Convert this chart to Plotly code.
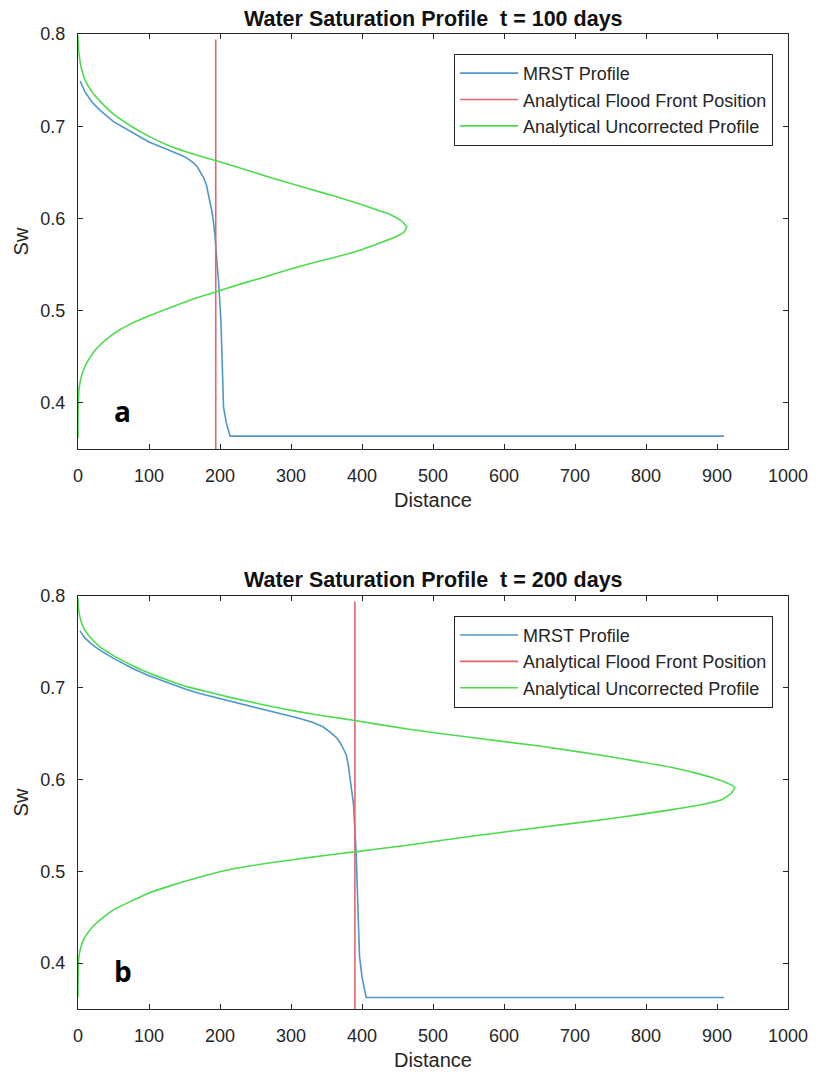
import plotly.graph_objects as go

# ---------------- data ----------------
# t = 100 days
mrst_x_100 = [3, 6, 10, 20, 30, 50, 75, 100, 125, 140, 150, 157, 163, 168, 172, 177, 181, 184, 186.5,
              188.7, 191, 193.3, 196, 198, 201.3, 203, 205, 209, 214.3, 910]
mrst_sw_100 = [0.749, 0.743, 0.737, 0.726, 0.718, 0.705, 0.694, 0.683, 0.675, 0.6705, 0.667, 0.6635,
               0.660, 0.656, 0.651, 0.644, 0.636, 0.626, 0.616, 0.607, 0.595, 0.578, 0.550, 0.5317,
               0.4886, 0.440, 0.3953, 0.378, 0.364, 0.364]
front_x_100 = [194, 194]
front_sw_100 = [0.35, 0.794]
unc_x_100 = [0, 0.3, 1, 2, 5, 10, 20, 30, 50, 75, 100, 125, 150, 175, 194.7, 225, 256, 290, 326,
             362, 396, 422, 442.6, 456, 463, 459, 447,
             425, 396, 362, 326, 290, 256, 225, 194.7, 165, 139.8, 115, 93, 75, 56, 40, 30, 22, 15,
             10, 6, 3, 1.5, 0.6, 0.2, 0.05, 0]
unc_sw_100 = [0.798, 0.790, 0.782, 0.775, 0.762, 0.750, 0.737, 0.728, 0.713, 0.700, 0.689, 0.680,
              0.673, 0.667, 0.6625, 0.6555, 0.648, 0.640, 0.632, 0.624, 0.616, 0.609, 0.6033, 0.597,
              0.591, 0.585, 0.580,
              0.5735, 0.5653, 0.558, 0.551, 0.543, 0.535, 0.528, 0.5206, 0.5135, 0.5063, 0.499, 0.492,
              0.486, 0.478, 0.469, 0.462, 0.455, 0.447, 0.440, 0.432, 0.423, 0.415, 0.405, 0.395,
              0.380, 0.362]

# t = 200 days
mrst_x_200 = [2.8, 10, 20, 30.8, 50, 77, 100, 124, 150, 170, 217, 264, 310, 330, 345, 356.8, 365,
              370.8, 377.8, 380.5, 382.5, 385, 388, 391.8, 394, 396.5, 400, 405.8, 910]
mrst_sw_200 = [0.762, 0.754, 0.747, 0.741, 0.732, 0.721, 0.713, 0.706, 0.699, 0.694, 0.685, 0.676,
               0.667, 0.6625, 0.6575, 0.6506, 0.645, 0.638, 0.627, 0.617, 0.6056, 0.590, 0.5732,
               0.519, 0.460, 0.4074, 0.385, 0.3626, 0.3626]
front_x_200 = [390, 390]
front_sw_200 = [0.35, 0.794]
unc_x_200 = [0, 0.3, 1, 3, 8, 15, 30, 50, 77, 100, 124, 150, 170, 217, 264, 310, 350, 390, 464, 557,
             650, 743.5, 790, 836.7, 870, 892.6, 912, 925, 920, 906.5,
             878.6, 836.7, 790, 743.5, 650, 557, 464, 390, 350, 310, 263.7, 217, 170.5, 124, 100,
             77.3, 50, 30.8, 20, 12, 7, 3.5, 1.5, 0.5, 0.1, 0]
unc_sw_200 = [0.798, 0.791, 0.785, 0.776, 0.765, 0.757, 0.745, 0.735, 0.724, 0.716, 0.709, 0.702,
              0.698, 0.689, 0.681, 0.674, 0.669, 0.6643, 0.655, 0.6455, 0.6365, 0.6257, 0.6195,
              0.6131, 0.607, 0.6023, 0.597, 0.5915, 0.585, 0.578,
              0.5728, 0.5672, 0.5618, 0.5568, 0.5478, 0.5385, 0.5285, 0.5212, 0.5175, 0.5135, 0.5085,
              0.5026, 0.4936, 0.4828, 0.4765, 0.4684, 0.458, 0.4468, 0.439, 0.431, 0.424, 0.416,
              0.408, 0.398, 0.382, 0.3626]

series_names = ["MRST Profile", "Analytical Flood Front Position", "Analytical Uncorrected Profile"]
titles = ["Water Saturation Profile\u00a0 t = 100 days", "Water Saturation Profile\u00a0 t = 200 days"]
panel_labels = ["a", "b"]
x_ticks = [0, 100, 200, 300, 400, 500, 600, 700, 800, 900, 1000]
y_ticks = [0.4, 0.5, 0.6, 0.7, 0.8]

# ---------------- styling ----------------
BLUE = "#4f97c9"
RED = "#e0666e"
GREEN = "#4ddb4d"
AX = "#262626"
FONT = "Liberation Sans, Arial, sans-serif"

fig = go.Figure()

panels = [
    (mrst_x_100, mrst_sw_100, front_x_100, front_sw_100, unc_x_100, unc_sw_100, "x", "y", "legend"),
    (mrst_x_200, mrst_sw_200, front_x_200, front_sw_200, unc_x_200, unc_sw_200, "x2", "y2", "legend2"),
]
colors = [BLUE, RED, GREEN]
for mx, ms, fx, fs, ux, us, xa, ya, lg in panels:
    for (xs, ys), name, col in zip([(mx, ms), (fx, fs), (ux, us)], series_names, colors):
        fig.add_trace(go.Scatter(x=xs, y=ys, mode="lines", name=name,
                                 line=dict(color=col, width=1.6, shape="spline", smoothing=0.4)
                                 if col == GREEN else dict(color=col, width=1.6),
                                 xaxis=xa, yaxis=ya, legend=lg, showlegend=True))

axis_common = dict(showline=True, linecolor=AX, linewidth=1, mirror="ticks", ticks="inside",
                   ticklen=5, tickcolor=AX, tickwidth=1, showgrid=False, zeroline=False,
                   tickfont=dict(size=18, color=AX, family=FONT))

xcfg = dict(axis_common, range=[0, 1000], tickvals=x_ticks, ticklabelstandoff=10,
            title=dict(text="Distance", font=dict(size=20, color=AX, family=FONT), standoff=8))
ycfg = dict(axis_common, range=[0.35, 0.8], tickvals=y_ticks, tickformat=".1f", ticklabelstandoff=8,
            title=dict(text="Sw", font=dict(size=20, color=AX, family=FONT), standoff=6))

legend_common = dict(xref="paper", yref="paper", xanchor="right", yanchor="top",
                     bordercolor=AX, borderwidth=1, bgcolor="white",
                     font=dict(size=18, color=AX, family=FONT), itemwidth=58,
                     traceorder="normal")

fig.update_layout(
    width=820, height=1080,
    margin=dict(l=78, r=27, t=34, b=64),
    paper_bgcolor="white", plot_bgcolor="white",
    font=dict(family=FONT, color=AX),
    xaxis=dict(xcfg, domain=[0, 1], anchor="y"),
    yaxis=dict(ycfg, domain=[0.5743, 1.0], anchor="x"),
    xaxis2=dict(xcfg, domain=[0, 1], anchor="y2"),
    yaxis2=dict(ycfg, domain=[0.0, 0.4236], anchor="x2"),
    legend=dict(legend_common, x=0.979, y=0.9796),
    legend2=dict(legend_common, x=0.979, y=0.4033),
)

title_y = [1.0153, 0.4399]
for t, ty in zip(titles, title_y):
    fig.add_annotation(text="<b>" + t + "</b>", x=0.5, y=ty, xref="paper", yref="paper",
                       xanchor="center", yanchor="middle", showarrow=False,
                       font=dict(size=21.5, color="#111111", family=FONT))

for lab, xr, yr in zip(panel_labels, ["x", "x2"], ["y", "y2"]):
    fig.add_annotation(text="<b>" + lab + "</b>", x=63, y=0.391, xref=xr, yref=yr,
                       xanchor="center", yanchor="middle", showarrow=False,
                       font=dict(size=28, color="black", family="Open Sans, sans-serif"))

fig.write_html("out.html")
